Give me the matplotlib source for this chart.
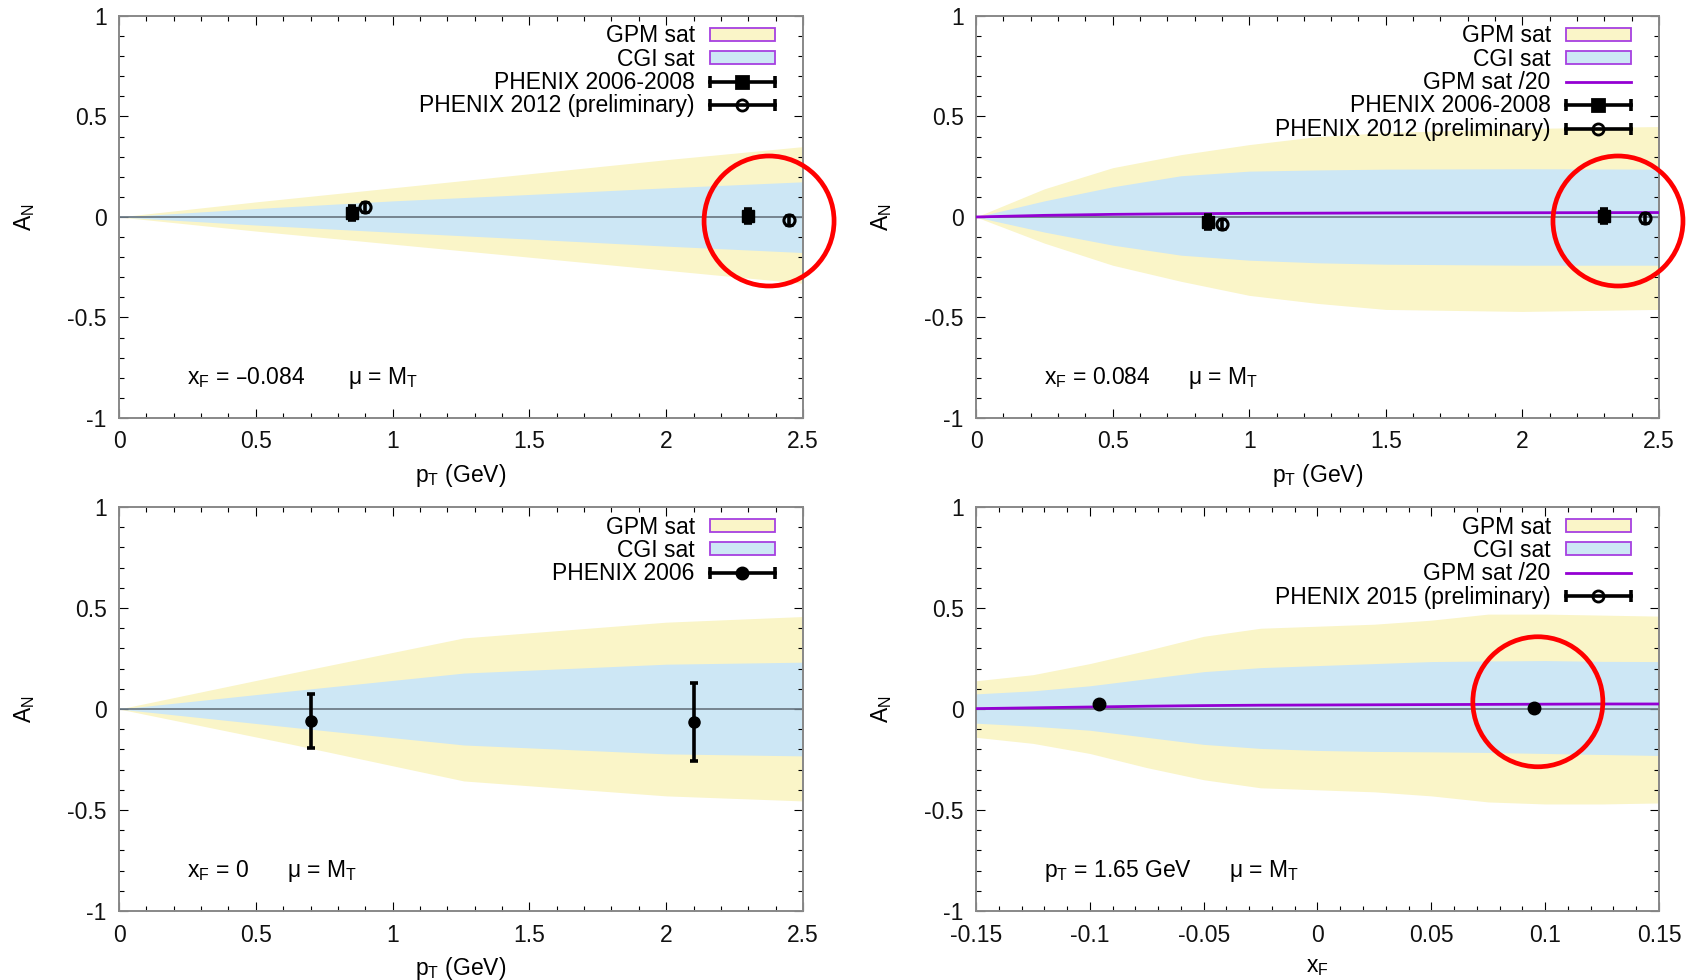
import matplotlib as mpl
mpl.use('Agg')
import matplotlib.pyplot as plt
from matplotlib.patches import Patch, Ellipse
from matplotlib.lines import Line2D
from matplotlib.legend_handler import HandlerLine2D, HandlerTuple
from matplotlib.ticker import MultipleLocator, FuncFormatter

plt.rcParams['font.family'] = ['Liberation Sans', 'DejaVu Sans']
plt.rcParams['mathtext.default'] = 'regular'
plt.rcParams['axes.unicode_minus'] = False
FS = 16.5
plt.rcParams['font.size'] = FS

YELLOW = '#faf5c8'
BLUE = '#cde7f5'
PURPLE = '#9400d3'
EDGE = '#a640e0'
ZERO = '#6f7d88'

# ---- panel a: xF = -0.084, vs pT
pt_a = [0, 0.5, 1.0, 1.5, 2.0, 2.5]
gpm_a_hi = [0, 0.075, 0.145, 0.215, 0.285, 0.35]
gpm_a_lo = [0, -0.07, -0.135, -0.2, -0.265, -0.33]
cgi_a_hi = [0, 0.042, 0.08, 0.112, 0.145, 0.175]
cgi_a_lo = [0, -0.04, -0.076, -0.11, -0.145, -0.177]
ph08_a_x = [0.85, 2.30]
ph08_a_y = [0.018, 0.005]
ph08_a_e = [0.035, 0.035]
ph12_a_x = [0.90, 2.45]
ph12_a_y = [0.051, -0.015]
ph12_a_e = [0.025, 0.025]

# ---- panel b: xF = 0.084, vs pT
pt_b = [0, 0.25, 0.5, 0.75, 1.0, 1.25, 1.5, 2.0, 2.5]
gpm_b_hi = [0, 0.14, 0.245, 0.31, 0.36, 0.40, 0.42, 0.44, 0.45]
gpm_b_lo = [0, -0.13, -0.24, -0.32, -0.39, -0.43, -0.46, -0.47, -0.46]
cgi_b_hi = [0, 0.08, 0.15, 0.205, 0.228, 0.234, 0.238, 0.24, 0.238]
cgi_b_lo = [0, -0.075, -0.14, -0.19, -0.215, -0.228, -0.235, -0.24, -0.24]
gpm20_b = [0, 0.008, 0.013, 0.016, 0.018, 0.019, 0.02, 0.021, 0.022]
ph08_b_x = [0.85, 2.30]
ph08_b_y = [-0.025, 0.003]
ph08_b_e = [0.035, 0.035]
ph12_b_x = [0.90, 2.45]
ph12_b_y = [-0.036, -0.005]
ph12_b_e = [0.025, 0.025]

# ---- panel c: xF = 0, vs pT
pt_c = [0, 0.63, 1.26, 2.0, 2.5]
gpm_c_hi = [0, 0.178, 0.352, 0.43, 0.458]
gpm_c_lo = [0, -0.174, -0.356, -0.43, -0.455]
cgi_c_hi = [0, 0.09, 0.178, 0.222, 0.232]
cgi_c_lo = [0, -0.09, -0.178, -0.222, -0.232]
ph06_c_x = [0.70, 2.10]
ph06_c_y = [-0.059, -0.064]
ph06_c_e = [0.133, 0.193]

# ---- panel d: pT = 1.65 GeV, vs xF
xf_d = [-0.15, -0.125, -0.1, -0.075, -0.05, -0.025, 0, 0.025, 0.05, 0.075, 0.1, 0.125, 0.15]
gpm_d_hi = [0.14, 0.17, 0.225, 0.29, 0.36, 0.40, 0.41, 0.42, 0.44, 0.47, 0.47, 0.465, 0.46]
gpm_d_lo = [-0.14, -0.17, -0.22, -0.29, -0.35, -0.39, -0.40, -0.41, -0.43, -0.46, -0.47, -0.47, -0.465]
cgi_d_hi = [0.075, 0.09, 0.115, 0.15, 0.185, 0.205, 0.215, 0.225, 0.235, 0.238, 0.24, 0.236, 0.235]
cgi_d_lo = [-0.07, -0.085, -0.105, -0.14, -0.175, -0.195, -0.205, -0.21, -0.212, -0.215, -0.22, -0.225, -0.23]
gpm20_d = [0.002, 0.006, 0.01, 0.014, 0.017, 0.019, 0.02, 0.021, 0.022, 0.023, 0.024, 0.025, 0.025]
ph15_d_x = [-0.096, 0.095]
ph15_d_y = [0.025, 0.003]
ph15_d_e = [0.004, 0.004]

# red circles: centre (x, y) in data units
circle_a = (2.376, -0.02)
circle_b = (2.35, -0.02)
circle_d = (0.0968, 0.036)
CIRCLE_R_PX = 65

W, H = 1698, 980
fig = plt.figure(figsize=(W / 100, H / 100), dpi=100)
ax_a = fig.add_axes([0.0701, 0.5735, 0.4028, 0.4102])
ax_b = fig.add_axes([0.5748, 0.5735, 0.4022, 0.4102])
ax_c = fig.add_axes([0.0701, 0.0704, 0.4028, 0.4122])
ax_d = fig.add_axes([0.5748, 0.0704, 0.4022, 0.4122])


def fmt(v, pos):
    return f'{round(v, 6) + 0.0:g}'


def style(ax, xlim, major, minor, xlabel):
    ax.set_xlim(*xlim)
    ax.set_ylim(-1, 1)
    ax.xaxis.set_major_locator(MultipleLocator(major))
    ax.xaxis.set_minor_locator(MultipleLocator(minor))
    ax.yaxis.set_major_locator(MultipleLocator(0.5))
    ax.yaxis.set_minor_locator(MultipleLocator(0.1))
    ax.xaxis.set_major_formatter(FuncFormatter(fmt))
    ax.yaxis.set_major_formatter(FuncFormatter(fmt))
    ax.tick_params(which='both', direction='in', top=True, right=True,
                   color='k', width=0.8, labelsize=FS, labelcolor='#111111')
    ax.tick_params(which='major', length=6.5)
    ax.tick_params(which='minor', length=3.5)
    ax.tick_params(axis='x', pad=9)
    ax.tick_params(axis='y', pad=9)
    for s in ax.spines.values():
        s.set_color('#888888')
        s.set_linewidth(1.4)
    ax.axhline(0, color=ZERO, lw=1.3, zorder=2)
    ax.set_xlabel(xlabel, fontsize=FS)
    ax.set_ylabel('$A_N$', fontsize=FS)
    ax.xaxis.set_label_coords(0.5, -0.11)
    ax.yaxis.set_label_coords(-0.12, 0.5)


def bands(ax, x, ghi, glo, chi, clo):
    ax.fill_between(x, glo, ghi, color=YELLOW, lw=0, zorder=0)
    ax.fill_between(x, clo, chi, color=BLUE, lw=0, zorder=1)


def red_circle(ax, centre):
    pos = ax.get_position()
    x0, x1 = ax.get_xlim()
    y0, y1 = ax.get_ylim()
    px_x = pos.width * W / (x1 - x0)
    px_y = pos.height * H / (y1 - y0)
    e = Ellipse(centre, 2 * CIRCLE_R_PX / px_x, 2 * CIRCLE_R_PX / px_y,
                fill=False, edgecolor='#ff0000', lw=3.4, clip_on=False, zorder=10)
    ax.add_patch(e)


eb = dict(color='k', elinewidth=2.6, capsize=3.2, capthick=2.6, zorder=5)


def err_handle(marker, filled):
    caps = Line2D([], [], color='k', lw=2.6, marker='|', ms=9, mew=2.6)
    mark = Line2D([], [], ls='none', marker=marker, ms=8,
                  mfc='k' if filled else 'none', mec='k', mew=2)
    return (caps, mark), caps


def add_legend(ax, entries):
    handles, labels, hmap = [], [], {}
    for kind, label in entries:
        if kind == 'gpm':
            h = Patch(facecolor=YELLOW, edgecolor=EDGE, lw=1.3)
        elif kind == 'cgi':
            h = Patch(facecolor=BLUE, edgecolor=EDGE, lw=1.3)
        elif kind == 'line':
            h = Line2D([], [], color=PURPLE, lw=2)
        else:
            marker, filled = kind
            h, caps = err_handle(marker, filled)
            hmap[caps] = HandlerLine2D(numpoints=2, marker_pad=0)
            hmap[h] = HandlerTuple(ndivide=1, pad=0)
        handles.append(h)
        labels.append(label)
    ax.legend(handles, labels, handler_map=hmap, loc='upper right',
              bbox_to_anchor=(0.959, 0.979), borderaxespad=0, borderpad=0,
              frameon=False, markerfirst=False, handlelength=2.84,
              handleheight=0.48, handletextpad=0.66, labelspacing=0.015,
              fontsize=FS)


# panel a
style(ax_a, (0, 2.5), 0.5, 0.1, '$p_T$ (GeV)')
bands(ax_a, pt_a, gpm_a_hi, gpm_a_lo, cgi_a_hi, cgi_a_lo)
ax_a.errorbar(ph08_a_x, ph08_a_y, yerr=ph08_a_e, fmt='s', ms=8, **eb)
ax_a.errorbar(ph12_a_x, ph12_a_y, yerr=ph12_a_e, fmt='o', ms=8, mfc='none', mew=2.2, **eb)
add_legend(ax_a, [('gpm', 'GPM sat'), ('cgi', 'CGI sat'),
                  (('s', True), 'PHENIX 2006-2008'),
                  (('o', False), 'PHENIX 2012 (preliminary)')])
ax_a.text(0.10, 0.084, '$x_F$ = \u20130.084', transform=ax_a.transAxes)
ax_a.text(0.335, 0.084, '\u03bc = $M_T$', transform=ax_a.transAxes)
red_circle(ax_a, circle_a)

# panel b
style(ax_b, (0, 2.5), 0.5, 0.1, '$p_T$ (GeV)')
bands(ax_b, pt_b, gpm_b_hi, gpm_b_lo, cgi_b_hi, cgi_b_lo)
ax_b.plot(pt_b, gpm20_b, color=PURPLE, lw=2, zorder=3)
ax_b.errorbar(ph08_b_x, ph08_b_y, yerr=ph08_b_e, fmt='s', ms=8, **eb)
ax_b.errorbar(ph12_b_x, ph12_b_y, yerr=ph12_b_e, fmt='o', ms=8, mfc='none', mew=2.2, **eb)
add_legend(ax_b, [('gpm', 'GPM sat'), ('cgi', 'CGI sat'), ('line', 'GPM sat /20'),
                  (('s', True), 'PHENIX 2006-2008'),
                  (('o', False), 'PHENIX 2012 (preliminary)')])
ax_b.text(0.10, 0.084, '$x_F$ = 0.084', transform=ax_b.transAxes)
ax_b.text(0.31, 0.084, '\u03bc = $M_T$', transform=ax_b.transAxes)
red_circle(ax_b, circle_b)

# panel c
style(ax_c, (0, 2.5), 0.5, 0.1, '$p_T$ (GeV)')
bands(ax_c, pt_c, gpm_c_hi, gpm_c_lo, cgi_c_hi, cgi_c_lo)
ax_c.errorbar(ph06_c_x, ph06_c_y, yerr=ph06_c_e, fmt='o', ms=8, **eb)
add_legend(ax_c, [('gpm', 'GPM sat'), ('cgi', 'CGI sat'),
                  (('o', True), 'PHENIX 2006')])
ax_c.text(0.10, 0.084, '$x_F$ = 0', transform=ax_c.transAxes)
ax_c.text(0.245, 0.084, '\u03bc = $M_T$', transform=ax_c.transAxes)

# panel d
style(ax_d, (-0.15, 0.15), 0.05, 0.01, '$x_F$')
bands(ax_d, xf_d, gpm_d_hi, gpm_d_lo, cgi_d_hi, cgi_d_lo)
ax_d.plot(xf_d, gpm20_d, color=PURPLE, lw=2, zorder=3)
ax_d.errorbar(ph15_d_x, ph15_d_y, yerr=ph15_d_e, fmt='o', ms=9, **eb)
add_legend(ax_d, [('gpm', 'GPM sat'), ('cgi', 'CGI sat'), ('line', 'GPM sat /20'),
                  (('o', False), 'PHENIX 2015 (preliminary)')])
ax_d.text(0.10, 0.084, '$p_T$ = 1.65 GeV', transform=ax_d.transAxes)
ax_d.text(0.37, 0.084, '\u03bc = $M_T$', transform=ax_d.transAxes)
red_circle(ax_d, circle_d)

fig.savefig('out.png', dpi=100)
